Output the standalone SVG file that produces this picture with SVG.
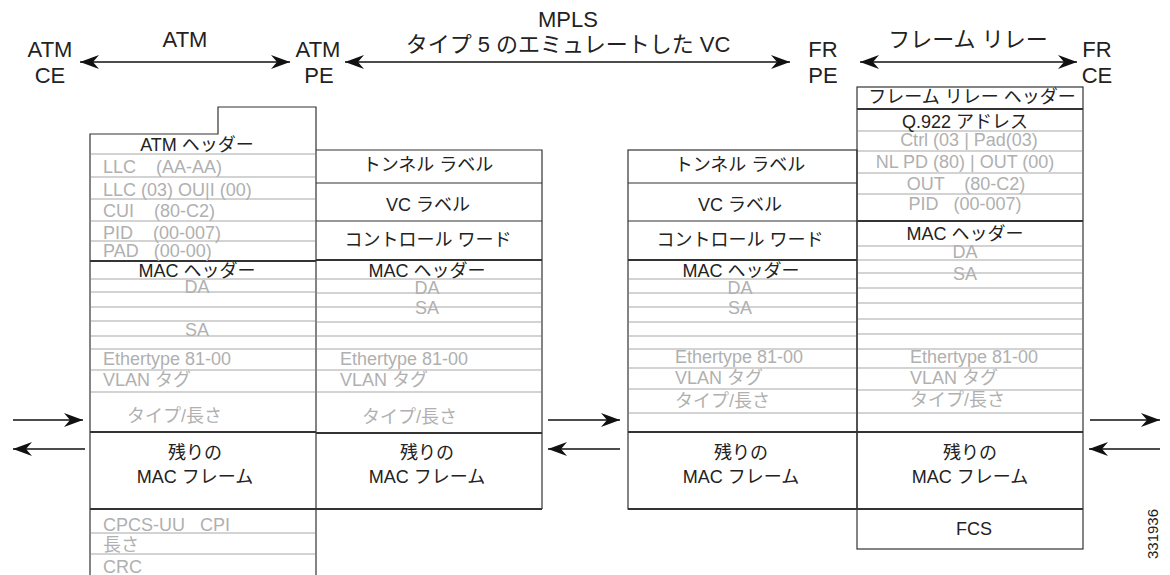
<svg xmlns="http://www.w3.org/2000/svg" width="1170" height="575" viewBox="0 0 1170 575">
<style>
text{font-family:"Liberation Sans","Noto Sans CJK JP",sans-serif;font-size:18px;fill:#222}
.g{fill:#b0b0b0}
.c{text-anchor:middle}
.t{font-size:22px}
.n{font-size:15px}
line,path.o{stroke-linecap:butt;fill:none}
.gl{stroke:#c4c4c4;stroke-width:1.5}
.bl{stroke:#333;stroke-width:1.2}
.tl{stroke:#333;stroke-width:2}
.ar{stroke:#111;stroke-width:1.5}
</style>
<defs>
<marker id="ah" viewBox="0 0 19 14" refX="19" refY="7" markerWidth="19" markerHeight="14" markerUnits="userSpaceOnUse" orient="auto-start-reverse">
<path d="M0,0 L19,7 L0,14 L6,7 Z" fill="#111"/>
</marker>
</defs>

<g id="connectors">
<line class="ar" x1="80" y1="62" x2="290" y2="62" marker-start="url(#ah)" marker-end="url(#ah)"/>
<line class="ar" x1="345" y1="62" x2="790" y2="62" marker-start="url(#ah)" marker-end="url(#ah)"/>
<line class="ar" x1="860" y1="62" x2="1077" y2="62" marker-start="url(#ah)" marker-end="url(#ah)"/>
<line class="ar" x1="13" y1="420" x2="83" y2="420" marker-end="url(#ah)"/>
<line class="ar" x1="85" y1="449" x2="13" y2="449" marker-end="url(#ah)"/>
<line class="ar" x1="548" y1="420" x2="620" y2="420" marker-end="url(#ah)"/>
<line class="ar" x1="620" y1="449" x2="548" y2="449" marker-end="url(#ah)"/>
<line class="ar" x1="1090" y1="420" x2="1160" y2="420" marker-end="url(#ah)"/>
<line class="ar" x1="1160" y1="449" x2="1089" y2="449" marker-end="url(#ah)"/>
</g>

<g id="atm-ce">
<text class="t c" x="50" y="57">ATM</text>
<text class="t c" x="50" y="83">CE</text>
</g>
<g id="atm-label"><text class="t c" x="185" y="47">ATM</text></g>
<g id="atm-pe">
<text class="t c" x="318" y="57">ATM</text>
<text class="t c" x="319" y="83">PE</text>
</g>
<g id="mpls-label">
<text class="t c" x="568" y="27">MPLS</text>
<text class="t c" x="568" y="52">タイプ 5 のエミュレートした VC</text>
</g>
<g id="fr-pe">
<text class="t c" x="823" y="57">FR</text>
<text class="t c" x="823" y="83">PE</text>
</g>
<g id="fr-label"><text class="t c" x="968" y="47">フレーム リレー</text></g>
<g id="fr-ce">
<text class="t c" x="1097" y="57">FR</text>
<text class="t c" x="1097" y="83">CE</text>
</g>

<g id="col-atm">
<path class="o bl" d="M90,575 V134 H218 V107 H316 V575"/>
<line class="gl" x1="91" y1="154" x2="315" y2="154"/>
<line class="gl" x1="91" y1="177" x2="315" y2="177"/>
<line class="gl" x1="91" y1="199" x2="315" y2="199"/>
<line class="gl" x1="91" y1="221" x2="315" y2="221"/>
<line class="gl" x1="91" y1="241" x2="315" y2="241"/>
<line class="tl" x1="90" y1="261" x2="316" y2="261"/>
<line class="gl" x1="91" y1="279" x2="315" y2="279"/>
<line class="gl" x1="91" y1="292" x2="315" y2="292"/>
<line class="gl" x1="91" y1="307" x2="315" y2="307"/>
<line class="gl" x1="91" y1="321" x2="315" y2="321"/>
<line class="gl" x1="91" y1="336" x2="315" y2="336"/>
<line class="gl" x1="91" y1="349" x2="315" y2="349"/>
<line class="gl" x1="91" y1="370" x2="315" y2="370"/>
<line class="gl" x1="91" y1="392" x2="315" y2="392"/>
<line class="tl" x1="90" y1="432" x2="316" y2="432"/>
<line class="tl" x1="90" y1="509" x2="316" y2="509"/>
<line class="gl" x1="91" y1="533" x2="315" y2="533"/>
<line class="gl" x1="91" y1="554" x2="315" y2="554"/>
<text class="c" x="197" y="151">ATM ヘッダー</text>
<text class="g" x="103" y="173" xml:space="preserve">LLC    (AA-AA)</text>
<text class="g" x="103" y="196">LLC (03) OU|I (00)</text>
<text class="g" x="103" y="217" xml:space="preserve">CUI    (80-C2)</text>
<text class="g" x="103" y="239" xml:space="preserve">PID    (00-007)</text>
<text class="g" x="103" y="257" xml:space="preserve">PAD   (00-00)</text>
<text class="c" x="197" y="277">MAC ヘッダー</text>
<text class="g c" x="197" y="293">DA</text>
<text class="g c" x="197" y="336">SA</text>
<text class="g" x="103" y="365">Ethertype 81-00</text>
<text class="g" x="103" y="386">VLAN タグ</text>
<text class="g" x="127" y="422">タイプ/長さ</text>
<text class="c" x="195" y="459">残りの</text>
<text class="c" x="195" y="483">MAC フレーム</text>
<text class="g" x="103" y="531" xml:space="preserve">CPCS-UU   CPI</text>
<text class="g" x="103" y="551">長さ</text>
<text class="g" x="103" y="573">CRC</text>
</g>

<g id="col-mpls-atm">
<path class="o bl" d="M316,150 H542 V509"/>
<line class="bl" x1="316" y1="183" x2="542" y2="183"/>
<line class="bl" x1="316" y1="221" x2="542" y2="221"/>
<line class="tl" x1="316" y1="260" x2="542" y2="260"/>
<line class="gl" x1="317" y1="279" x2="541" y2="279"/>
<line class="gl" x1="317" y1="293" x2="541" y2="293"/>
<line class="gl" x1="317" y1="307" x2="541" y2="307"/>
<line class="gl" x1="317" y1="322" x2="541" y2="322"/>
<line class="gl" x1="317" y1="336" x2="541" y2="336"/>
<line class="gl" x1="317" y1="349" x2="541" y2="349"/>
<line class="gl" x1="317" y1="370" x2="541" y2="370"/>
<line class="gl" x1="317" y1="392" x2="541" y2="392"/>
<line class="tl" x1="316" y1="433" x2="542" y2="433"/>
<line class="tl" x1="316" y1="509" x2="542" y2="509"/>
<text class="c" x="428" y="171">トンネル ラベル</text>
<text class="c" x="428" y="211">VC ラベル</text>
<text class="c" x="428" y="246">コントロール ワード</text>
<text class="c" x="427" y="277">MAC ヘッダー</text>
<text class="g c" x="427" y="294">DA</text>
<text class="g c" x="427" y="314">SA</text>
<text class="g" x="340" y="365">Ethertype 81-00</text>
<text class="g" x="340" y="386">VLAN タグ</text>
<text class="g" x="362" y="423">タイプ/長さ</text>
<text class="c" x="427" y="459">残りの</text>
<text class="c" x="427" y="483">MAC フレーム</text>
</g>

<g id="col-mpls-fr">
<rect class="bl" x="628" y="150" width="229" height="359" fill="none"/>
<line class="bl" x1="628" y1="183" x2="857" y2="183"/>
<line class="bl" x1="628" y1="221" x2="857" y2="221"/>
<line class="tl" x1="628" y1="260" x2="857" y2="260"/>
<line class="gl" x1="629" y1="279" x2="856" y2="279"/>
<line class="gl" x1="629" y1="293" x2="856" y2="293"/>
<line class="gl" x1="629" y1="307" x2="856" y2="307"/>
<line class="gl" x1="629" y1="322" x2="856" y2="322"/>
<line class="gl" x1="629" y1="336" x2="856" y2="336"/>
<line class="gl" x1="629" y1="349" x2="856" y2="349"/>
<line class="gl" x1="629" y1="368" x2="856" y2="368"/>
<line class="gl" x1="629" y1="389" x2="856" y2="389"/>
<line class="gl" x1="629" y1="413" x2="856" y2="413"/>
<line class="tl" x1="628" y1="432" x2="857" y2="432"/>
<line class="tl" x1="628" y1="509" x2="857" y2="509"/>
<text class="c" x="740" y="171">トンネル ラベル</text>
<text class="c" x="740" y="211">VC ラベル</text>
<text class="c" x="740" y="246">コントロール ワード</text>
<text class="c" x="741" y="277">MAC ヘッダー</text>
<text class="g c" x="740" y="294">DA</text>
<text class="g c" x="740" y="314">SA</text>
<text class="g" x="675" y="363">Ethertype 81-00</text>
<text class="g" x="675" y="384">VLAN タグ</text>
<text class="g" x="675" y="407">タイプ/長さ</text>
<text class="c" x="741" y="459">残りの</text>
<text class="c" x="741" y="483">MAC フレーム</text>
</g>

<g id="col-fr">
<rect class="bl" x="857" y="87" width="226" height="462" fill="none"/>
<line class="tl" x1="857" y1="109" x2="1083" y2="109"/>
<line class="gl" x1="858" y1="131" x2="1082" y2="131"/>
<line class="gl" x1="858" y1="151" x2="1082" y2="151"/>
<line class="gl" x1="858" y1="173" x2="1082" y2="173"/>
<line class="gl" x1="858" y1="194" x2="1082" y2="194"/>
<line class="tl" x1="857" y1="221" x2="1083" y2="221"/>
<line class="gl" x1="858" y1="246" x2="1082" y2="246"/>
<line class="gl" x1="858" y1="260" x2="1082" y2="260"/>
<line class="gl" x1="858" y1="273" x2="1082" y2="273"/>
<line class="gl" x1="858" y1="288" x2="1082" y2="288"/>
<line class="gl" x1="858" y1="303" x2="1082" y2="303"/>
<line class="gl" x1="858" y1="319" x2="1082" y2="319"/>
<line class="gl" x1="858" y1="334" x2="1082" y2="334"/>
<line class="gl" x1="858" y1="349" x2="1082" y2="349"/>
<line class="gl" x1="858" y1="368" x2="1082" y2="368"/>
<line class="gl" x1="858" y1="390" x2="1082" y2="390"/>
<line class="gl" x1="858" y1="413" x2="1082" y2="413"/>
<line class="tl" x1="857" y1="432" x2="1083" y2="432"/>
<line class="tl" x1="857" y1="509" x2="1083" y2="509"/>
<text class="c" x="972" y="103">フレーム リレー ヘッダー</text>
<text class="c" x="965" y="128">Q.922 アドレス</text>
<text class="g c" x="969" y="146">Ctrl (03 | Pad(03)</text>
<text class="g c" x="965" y="168">NL PD (80) | OUT (00)</text>
<text class="g c" x="966" y="190" xml:space="preserve">OUT    (80-C2)</text>
<text class="g c" x="965" y="210" xml:space="preserve">PID   (00-007)</text>
<text class="c" x="965" y="240">MAC ヘッダー</text>
<text class="g c" x="965" y="258">DA</text>
<text class="g c" x="965" y="280">SA</text>
<text class="g" x="910" y="363">Ethertype 81-00</text>
<text class="g" x="910" y="384">VLAN タグ</text>
<text class="g" x="910" y="406">タイプ/長さ</text>
<text class="c" x="970" y="459">残りの</text>
<text class="c" x="970" y="483">MAC フレーム</text>
<text class="c" x="974" y="535">FCS</text>
</g>

<g id="figure-id">
<text class="n c" x="1158" y="534" transform="rotate(-90 1158 534)">331936</text>
</g>
</svg>
